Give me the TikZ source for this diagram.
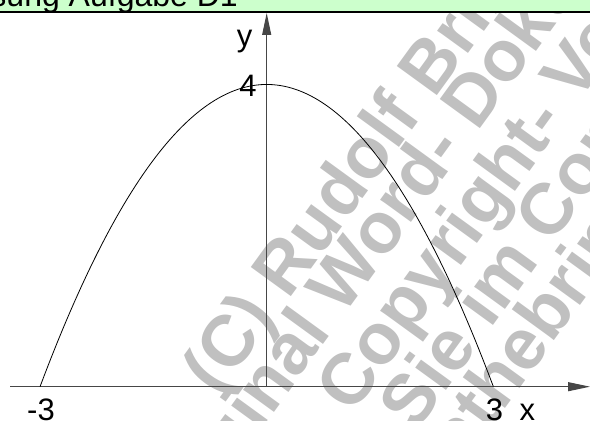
\documentclass[tikz,border=0pt]{standalone}
\usepackage{fontspec}
\setmainfont{Liberation Sans}
\usetikzlibrary{arrows.meta}
\definecolor{hdrgreen}{RGB}{204,255,204}
\definecolor{wmgray}{RGB}{192,192,192}
\definecolor{axisgray}{RGB}{70,70,70}
\tikzset{
  wm/.style={rotate=54, anchor=mid west, inner sep=0pt, text=wmgray, font=\bfseries\fontsize{72}{72}\selectfont},
  lbl/.style={inner sep=0pt, anchor=base west, font=\fontsize{31}{31}\selectfont},
  axisline/.style={draw=axisgray, line width=1pt, -{Triangle[length=22pt,width=9pt]}},
  curve/.style={draw=black, line width=0.8pt},
}
\begin{document}
\begin{tikzpicture}[x=1pt,y=1pt]
\useasboundingbox (0,0) rectangle (590,421);
\clip (0,0) rectangle (590,421);
% watermark
\node[wm] (wm1) at (216,25) {(C) Rudolf Brinkmann};
\node[wm] (wm2) at (170,-130) {Original Word- Dokument};
\node[wm] (wm3) at (350,7) {Copyright- Vermerk};
\node[wm] (wm4) at (413,-11) {Sie im Computer};
\node[wm] (wm5) at (425,-94) {mathebrinkmann};
% header
\fill[hdrgreen] (0,409) rectangle (590,421);
\node[lbl, anchor=base east, font=\fontsize{32}{32}\selectfont] (title) at (238,414) {Lösung Aufgabe D1};
\draw[line width=2pt] (0,409) -- (590,409);
% axes
\coordinate (O) at (266.7,34.3);
\coordinate (xl) at (10,34.3);
\coordinate (xr) at (590,34.3);
\coordinate (yt) at (266.7,408);
\draw[axisline] (xl) -- (xr);
\draw[axisline] (O) -- (yt);
\draw[curve, shift={(O)}] plot[domain=-3:3, samples=120] ({75.56*\x},{75.56*(4-4/9*\x*\x)});
% labels
\node[lbl] (lm3) at (27,0) {-3};
\node[lbl] (l3) at (485.7,0) {3};
\node[lbl] (lx) at (519.5,0) {x};
\node[lbl] (ly) at (236.7,374) {y};
\node[lbl] (l4) at (239.2,324) {4};
\end{tikzpicture}
\end{document}
